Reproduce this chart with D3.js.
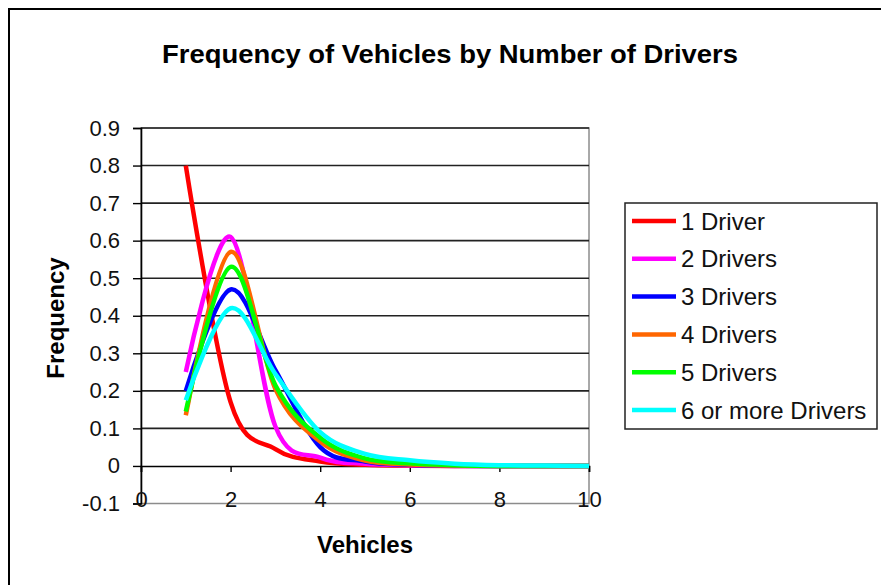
<!DOCTYPE html>
<html>
<head>
<meta charset="utf-8">
<script src="https://cdn.jsdelivr.net/npm/d3@7"></script>
<style>
  html, body { margin: 0; padding: 0; background: #fff; }
  svg { display: block; font-family: "Liberation Sans", Arial, sans-serif; }
</style>
</head>
<body>
<svg id="chart" width="881" height="585"></svg>
<script>
// ---- data ----
const vehicles = [1, 2, 3, 4, 5, 6, 7, 8, 9, 10];
const seriesNames = ["1 Driver", "2 Drivers", "3 Drivers", "4 Drivers", "5 Drivers", "6 or more Drivers"];
const driver1 = [0.80, 0.17, 0.045, 0.012, 0.003, 0.001, 0, 0, 0, 0];
const driver2 = [0.25, 0.61, 0.105, 0.022, 0.006, 0.002, 0, 0, 0, 0];
const driver3 = [0.20, 0.47, 0.255, 0.05, 0.012, 0.003, 0.001, 0, 0, 0];
const driver4 = [0.135, 0.57, 0.205, 0.065, 0.014, 0.004, 0.001, 0, 0, 0];
const driver5 = [0.145, 0.53, 0.215, 0.075, 0.02, 0.007, 0.002, 0, 0, 0];
const driver6 = [0.175, 0.42, 0.245, 0.09, 0.032, 0.015, 0.006, 0.002, 0.001, 0];
const seriesValues = [driver1, driver2, driver3, driver4, driver5, driver6];
const seriesColors = ["#FF0000", "#FF00FF", "#0000FF", "#FF6600", "#00FF00", "#00FFFF"];
const xTicks = [0, 2, 4, 6, 8, 10];
const yTicks = [-0.1, 0, 0.1, 0.2, 0.3, 0.4, 0.5, 0.6, 0.7, 0.8, 0.9];
const titleText = "Frequency of Vehicles by Number of Drivers";
const xTitle = "Vehicles";
const yTitle = "Frequency";

// ---- layout ----
const svg = d3.select("#chart");
const plot = { left: 141, right: 589, top: 128, bottom: 503.5 };
const x = d3.scaleLinear().domain([0, 10]).range([plot.left, plot.right]);
const y = d3.scaleLinear().domain([-0.1, 0.9]).range([plot.bottom, plot.top]);
const fmtY = d => (+d.toFixed(1)).toString();

// chart frame
svg.append("rect").attr("x", 9).attr("y", 9).attr("width", 900).attr("height", 600)
  .attr("fill", "#fff").attr("stroke", "#000").attr("stroke-width", 2);

// title
svg.append("text").attr("x", 450).attr("y", 63).attr("text-anchor", "middle")
  .attr("font-size", 26).attr("font-weight", "bold").attr("textLength", 576)
  .attr("lengthAdjust", "spacingAndGlyphs").text(titleText);

// plot area border (gray)
svg.append("rect").attr("x", plot.left).attr("y", plot.top)
  .attr("width", plot.right - plot.left).attr("height", plot.bottom - plot.top)
  .attr("fill", "none").attr("stroke", "#8c8c8c").attr("stroke-width", 1.5);

// gridlines
const gridVals = yTicks.filter(v => v > 0.05);
svg.append("g").selectAll("line").data(gridVals).join("line")
  .attr("x1", plot.left).attr("x2", plot.right)
  .attr("y1", d => y(d)).attr("y2", d => y(d))
  .attr("stroke", "#222").attr("stroke-width", 1.6);

// y axis
const yAxis = d3.axisLeft(y).tickValues(yTicks).tickSize(8).tickPadding(13).tickFormat(fmtY);
const gy = svg.append("g").attr("transform", `translate(${plot.left},0)`).call(yAxis);
gy.select(".domain").attr("stroke", "#000").attr("stroke-width", 1.6);
gy.selectAll(".tick line").attr("stroke", "#000").attr("stroke-width", 1.4);
gy.selectAll(".tick text").attr("font-size", 22).attr("fill", "#111")
  .attr("font-family", '"Liberation Sans", Arial, sans-serif');

// x axis at y=0
const xAxis = d3.axisBottom(x).tickValues(xTicks).tickSize(6).tickFormat(d => String(d));
const gx = svg.append("g").attr("transform", `translate(0,${y(0)})`).call(xAxis);
gx.select(".domain").attr("stroke", "#000").attr("stroke-width", 1.6);
gx.selectAll(".tick line").attr("stroke", "#000").attr("stroke-width", 1.4);
gx.selectAll(".tick text").attr("font-size", 22).attr("fill", "#111")
  .attr("font-family", '"Liberation Sans", Arial, sans-serif')
  .attr("y", plot.bottom + 4 - y(0)).attr("dy", 0);

// series lines
const line = d3.line().x((d, i) => x(vehicles[i])).y(d => y(d)).curve(d3.curveCatmullRom.alpha(0));
svg.append("g").selectAll("path").data(seriesValues).join("path")
  .attr("d", d => line(d)).attr("fill", "none")
  .attr("stroke", (d, i) => seriesColors[i]).attr("stroke-width", 4.5)
  .attr("stroke-linejoin", "round");

// axis titles
svg.append("text").attr("x", 365).attr("y", 553).attr("text-anchor", "middle")
  .attr("font-size", 24).attr("font-weight", "bold").text(xTitle);
svg.append("text").attr("transform", "translate(64,318) rotate(-90)").attr("text-anchor", "middle")
  .attr("font-size", 24).attr("font-weight", "bold").text(yTitle);

// legend
const lg = svg.append("g");
lg.append("rect").attr("x", 625).attr("y", 203).attr("width", 252).attr("height", 226)
  .attr("fill", "#fff").attr("stroke", "#222").attr("stroke-width", 1.5);
const rowY = d3.scalePoint().domain(seriesNames).range([221, 410]);
const rows = lg.selectAll("g.row").data(seriesNames).join("g").attr("class", "row")
  .attr("transform", d => `translate(0,${rowY(d)})`);
rows.append("line").attr("x1", 632).attr("x2", 676).attr("y1", 0).attr("y2", 0)
  .attr("stroke", (d, i) => seriesColors[i]).attr("stroke-width", 4.5);
rows.append("text").attr("x", 681).attr("y", 0).attr("dy", "0.36em")
  .attr("font-size", 24).attr("fill", "#111").text(d => d);
</script>
</body>
</html>
